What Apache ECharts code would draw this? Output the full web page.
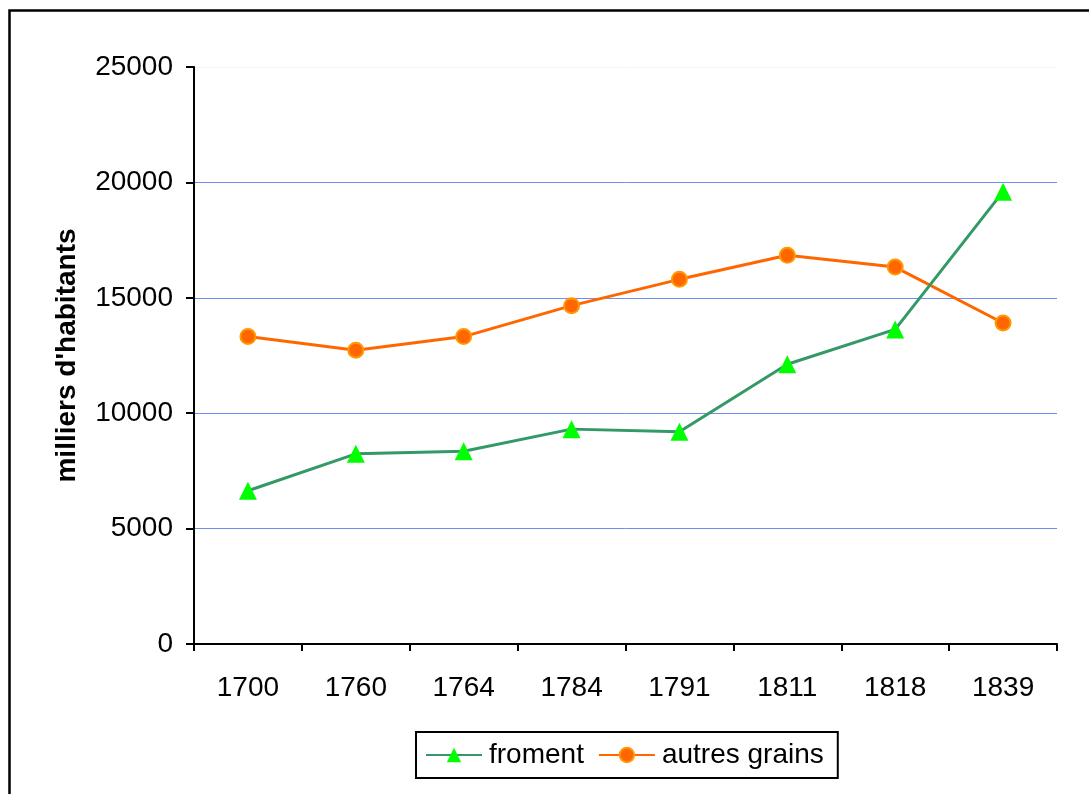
<!DOCTYPE html>
<html>
<head>
<meta charset="utf-8">
<style>
  html, body { margin: 0; padding: 0; background: #fff; }
  #chart { width: 1089px; height: 794px; }
</style>
<script src="https://cdn.jsdelivr.net/npm/echarts@6/dist/echarts.min.js"></script>
</head>
<body>
<div id="chart"></div>
<script>
// Population (thousands) fed by wheat vs. other grains
const years = ['1700', '1760', '1764', '1784', '1791', '1811', '1818', '1839'];
const froment = [6640, 8240, 8350, 9310, 9200, 12120, 13630, 19600];
const autresGrains = [13320, 12730, 13320, 14660, 15800, 16840, 16330, 13910];
const yTicks = { min: 0, max: 25000, interval: 5000 };

const font = 'Liberation Sans, Arial, sans-serif';
const fs = 28;
const chart = echarts.init(document.getElementById('chart'), null, { renderer: 'canvas' });

chart.setOption({
  backgroundColor: '#ffffff',
  animation: false,
  textStyle: { fontFamily: font },
  graphic: [{
    type: 'rect',
    shape: { x: 9.5, y: 10.5, width: 1200, height: 900 },
    style: { fill: 'none', stroke: '#000', lineWidth: 2.5 },
    silent: true,
    z: 100
  }],
  grid: { left: 194, right: 32, top: 67, bottom: 150, containLabel: false },
  legend: {
    data: ['froment', 'autres grains'],
    left: 416,
    top: 732,
    padding: [9, 14, 9, 9],
    itemGap: 14,
    itemWidth: 56,
    itemHeight: 18,
    borderColor: '#000',
    borderWidth: 2,
    backgroundColor: '#fff',
    textStyle: { fontSize: fs, color: '#000', fontFamily: font, padding: [0, 0, 0, 2] }
  },
  xAxis: {
    type: 'category',
    data: years,
    boundaryGap: true,
    axisLine: { lineStyle: { color: '#000', width: 2 } },
    axisTick: { show: true, alignWithLabel: false, length: 7, lineStyle: { color: '#000', width: 2 } },
    axisLabel: { fontSize: fs, color: '#000', margin: 30, fontFamily: font },
    splitLine: { show: false }
  },
  yAxis: {
    type: 'value',
    min: yTicks.min,
    max: yTicks.max,
    interval: yTicks.interval,
    name: "milliers d'habitants",
    nameLocation: 'middle',
    nameGap: 113,
    nameRotate: 90,
    nameTextStyle: { fontSize: fs, fontWeight: 'bold', color: '#000', fontFamily: font },
    axisLine: { show: true, lineStyle: { color: '#000', width: 2 } },
    axisTick: { show: true, length: 8, lineStyle: { color: '#000', width: 2 } },
    axisLabel: {
      fontSize: fs, color: '#000', margin: 21, fontFamily: font,
      formatter: (v) => String(v)
    },
    splitLine: {
      show: true,
      lineStyle: {
        color: ['transparent', '#6f8ff0', '#6f8ff0', '#6f8ff0', '#6f8ff0', '#f4f4f4'],
        width: 1
      }
    }
  },
  series: [
    {
      name: 'froment',
      type: 'line',
      data: froment,
      symbol: 'triangle',
      symbolSize: 18,
      lineStyle: { color: '#339966', width: 3 },
      itemStyle: { color: '#00ff00', borderColor: '#00ff00', borderWidth: 0 },
      z: 3
    },
    {
      name: 'autres grains',
      type: 'line',
      data: autresGrains,
      symbol: 'circle',
      symbolSize: 15,
      lineStyle: { color: '#ff6600', width: 3 },
      itemStyle: { color: '#ff6600', borderColor: '#ff9900', borderWidth: 2 },
      z: 2
    }
  ]
});
</script>
</body>
</html>
